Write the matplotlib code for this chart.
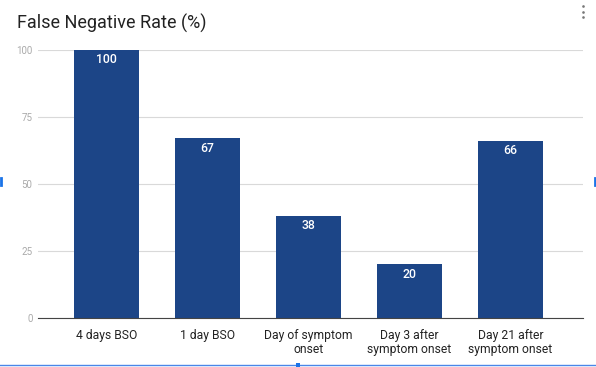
import matplotlib.pyplot as plt
from matplotlib.lines import Line2D

# data
categories = ['4 days BSO', '1 day BSO', 'Day of symptom\nonset',
              'Day 3 after\nsymptom onset', 'Day 21 after\nsymptom onset']
values = [100, 67, 38, 20, 66]
yticks = [0, 25, 50, 75, 100]

plt.rcParams['font.family'] = ['Roboto', 'DejaVu Sans']

fig = plt.figure(figsize=(5.96, 3.67), dpi=100)
ax = fig.add_axes([38 / 596, 1 - 318 / 367, (583 - 38) / 596, (318 - 50) / 367])

x = range(len(categories))
bars = ax.bar(x, values, width=0.65, color='#1c4587', zorder=3)
for b, v in zip(bars, values):
    ax.annotate(str(v), (b.get_x() + b.get_width() / 2, v), xytext=(0, -7),
                textcoords='offset points', ha='center', va='center',
                color='white', fontsize=8.8, fontweight='medium')

ax.set_xlim(-0.68, 4.72)
ax.set_ylim(0, 100)
ax.set_yticks(yticks)
ax.set_yticklabels([str(t) for t in yticks], color='#aaaaaa', fontsize=7)
ax.set_xticks(list(x))
ax.set_xticklabels(categories, fontsize=8.7, color='#222222', linespacing=1.05)
ax.tick_params(axis='both', length=0)
ax.tick_params(axis='y', pad=4)
ax.tick_params(axis='x', pad=8)
ax.grid(axis='y', color='#d9d9d9', linewidth=0.8, zorder=0)
for s in ['top', 'right', 'left']:
    ax.spines[s].set_visible(False)
ax.spines['bottom'].set_color('#444444')
ax.spines['bottom'].set_linewidth(0.8)
ax.spines['bottom'].set_zorder(4)

fig.text(17 / 596, 1 - 23 / 367, 'False Negative Rate (%)', fontsize=13,
         color='#222222', ha='left', va='center')

# menu dots
for yy in [6, 12, 17]:
    fig.add_artist(Line2D([583 / 596], [1 - yy / 367], marker='o', markersize=1.9,
                          markeredgewidth=0, color='#777777', transform=fig.transFigure))

# selection outline
fig.add_artist(Line2D([0, 1], [1 - 365 / 367] * 2, color='#4a86e8', linewidth=1.0,
                      transform=fig.transFigure))
fig.add_artist(Line2D([298 / 596], [1 - 365 / 367], marker='s', markersize=3,
                      markeredgewidth=0, color='#1a73e8', transform=fig.transFigure))
fig.add_artist(Line2D([0.002, 0.002], [1 - 185 / 367, 1 - 178 / 367], color='#1a73e8',
                      linewidth=2, transform=fig.transFigure))
fig.add_artist(Line2D([0.998, 0.998], [1 - 185 / 367, 1 - 178 / 367], color='#1a73e8',
                      linewidth=2, transform=fig.transFigure))

fig.savefig('out.png', dpi=100)
